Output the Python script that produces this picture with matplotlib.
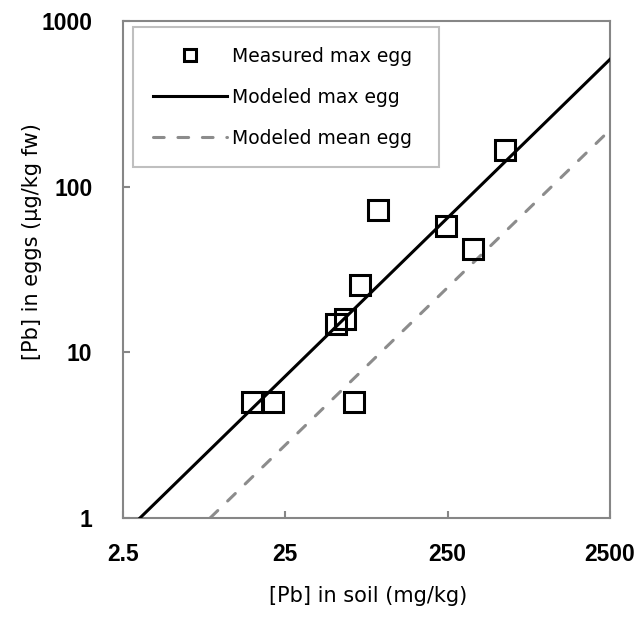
import matplotlib
matplotlib.use("Agg")
import matplotlib.pyplot as plt
from matplotlib.lines import Line2D

# Measured max egg [Pb] (µg/kg fw) vs soil [Pb] (mg/kg)
soil_measured = [565, 93.6, 244, 357, 72.1, 58.3, 51.3, 15.5, 21.1, 66.3]
egg_measured = [166, 72.3, 58.1, 42.0, 25.5, 16.0, 14.8, 5.0, 5.0, 5.0]

# Modeled lines (end points)
soil_model_max = [3.18, 2500]
egg_model_max = [1.0, 587]
soil_model_mean = [8.6, 2500]
egg_model_mean = [1.0, 220]

x_ticks = [2.5, 25, 250, 2500]
x_ticklabels = ["2.5", "25", "250", "2500"]
y_ticks = [1, 10, 100, 1000]
y_ticklabels = ["1", "10", "100", "1000"]

legend_labels = ["Measured max egg", "Modeled max egg", "Modeled mean egg"]

plt.rcParams['font.family'] = ['DejaVu Sans']

W, H = 643, 618
fig = plt.figure(figsize=(W / 100, H / 100), dpi=100)
ax = fig.add_axes([123 / W, (H - 518) / H, (610 - 123) / W, (518 - 21) / H])

ax.set_xscale('log')
ax.set_yscale('log')
ax.set_xlim(2.5, 2500)
ax.set_ylim(1, 1000)

grey = '#8c8c8c'
ax.plot(soil_model_mean, egg_model_mean, color=grey, lw=2.2,
        dashes=(3.5, 4.5), dash_capstyle='round', zorder=2)
ax.plot(soil_model_max, egg_model_max, color='black', lw=2.2, zorder=3)
ax.plot(soil_measured, egg_measured, linestyle='none', marker='s', ms=13.7,
        mew=2.2, mec='black', mfc='none', zorder=4)

ax.set_xticks(x_ticks)
ax.set_xticklabels(x_ticklabels)
ax.set_yticks(y_ticks)
ax.set_yticklabels(y_ticklabels)
ax.minorticks_off()
ax.tick_params(which='both', direction='in', length=5, width=1.5, color='#868686',
               top=False, right=False)
ax.tick_params(axis='x', pad=18)
ax.tick_params(axis='y', pad=22)
for lab in ax.get_xticklabels() + ax.get_yticklabels():
    lab.set_fontfamily(['Liberation Sans', 'DejaVu Sans'])
    lab.set_fontweight('bold')
    lab.set_fontsize(16.5)

for s in ax.spines.values():
    s.set_color('#868686')
    s.set_linewidth(1.5)

ax.set_xlabel("[Pb] in soil (mg/kg)", fontsize=15)
ax.set_ylabel("[Pb] in eggs (µg/kg fw)", fontsize=15)
ax.xaxis.set_label_coords((368 - 123) / 487, -(586 - 518) / 497)
ax.yaxis.set_label_coords((42 - 123) / 487, (518 - 242) / 497)

handles = [
    Line2D([], [], linestyle='none', marker='s', ms=8, mew=2.2, mec='black', mfc='none'),
    Line2D([], [], color='black', lw=2.2),
    Line2D([], [], color=grey, lw=2.2, dashes=(3.5, 4.5), dash_capstyle='round'),
]
x0 = (133 - 123) / 487
x1 = (439 - 123) / 487
ytop = (518 - 27) / 497
leg = ax.legend(handles, legend_labels, loc='upper left',
                bbox_to_anchor=(x0, ytop - 0.3, x1 - x0, 0.3), mode='expand',
                borderaxespad=0, fontsize=13.5, handlelength=3.95, handletextpad=0.27,
                labelspacing=1.17, borderpad=1.05, fancybox=False, framealpha=1)
leg.get_frame().set_edgecolor('#bfbfbf')
leg.get_frame().set_linewidth(1.5)

fig.savefig('out.png', dpi=100)
